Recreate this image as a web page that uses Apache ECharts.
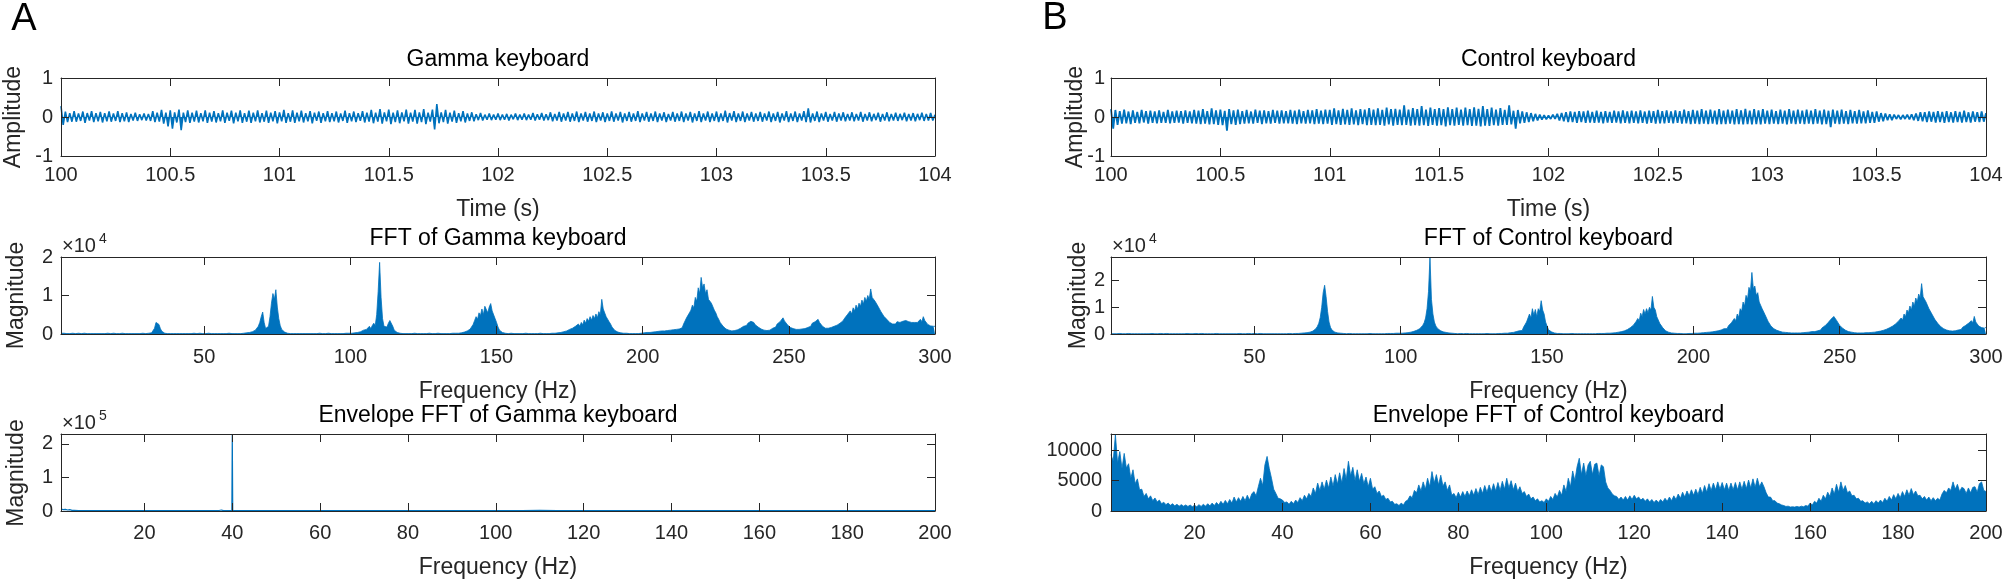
<!DOCTYPE html>
<html><head><meta charset="utf-8">
<script src="https://cdn.jsdelivr.net/npm/echarts@6/dist/echarts.min.js"></script>
<style>html,body{margin:0;padding:0;background:#fff}#chart{width:2008px;height:580px}</style>
</head><body><div id="chart"></div>
<script>
// ---------------- DATA ----------------
// Time signals: t = timeStart + i*timeStep (s), amplitude (a.u.)
const timeStart = 100, timeStep = 0.01;
const gammaAmplitude = [
.28,-.2,.14,-.13,.1,-.12,.15,-.12,.09,-.1,.14,-.15,.1,-.09,.15,-.13,.1,-.11,.13,-.14,
.1,-.11,.14,-.12,.09,-.1,.15,-.13,.1,-.11,.12,-.13,.08,-.09,.11,-.1,.07,-.08,.09,-.09,
.08,-.1,.15,-.13,.11,-.12,.18,-.17,.11,-.24,.17,-.3,.12,-.14,.19,-.34,.11,-.13,.17,-.15,
.11,-.12,.16,-.14,.1,-.11,.17,-.15,.11,-.12,.15,-.14,.1,-.11,.17,-.15,.11,-.1,.16,-.16,
.11,-.11,.17,-.15,.1,-.12,.16,-.15,.11,-.11,.17,-.14,.1,-.12,.16,-.15,.11,-.11,.15,-.16,
.12,-.11,.18,-.15,.1,-.12,.17,-.15,.11,-.11,.16,-.14,.1,-.11,.15,-.16,.11,-.1,.14,-.15,
.1,-.11,.15,-.13,.1,-.11,.14,-.14,.09,-.1,.16,-.15,.1,-.11,.14,-.13,.1,-.1,.15,-.14,
.11,-.12,.18,-.16,.11,-.12,.2,-.17,.12,-.11,.19,-.18,.11,-.13,.17,-.16,.12,-.11,.19,-.17,
.11,-.12,.18,-.17,.12,-.13,.2,-.18,.11,-.12,.19,-.32,.33,-.16,.12,-.13,.18,-.17,.11,-.12,
.16,-.15,.1,-.11,.15,-.14,.09,-.1,.12,-.11,.07,-.08,.1,-.09,.06,-.07,.09,-.08,.06,-.07,
.09,-.08,.06,-.07,.08,-.09,.06,-.06,.09,-.08,.06,-.07,.09,-.08,.06,-.07,.1,-.09,.07,-.07,
.1,-.09,.07,-.08,.12,-.11,.08,-.09,.13,-.12,.09,-.09,.13,-.12,.09,-.1,.14,-.13,.09,-.09,
.13,-.12,.09,-.1,.14,-.13,.09,-.09,.12,-.13,.09,-.1,.14,-.12,.09,-.09,.13,-.14,.09,-.1,
.13,-.12,.09,-.1,.15,-.13,.09,-.09,.13,-.12,.09,-.1,.14,-.13,.09,-.09,.12,-.13,.08,-.09,
.13,-.12,.09,-.1,.14,-.13,.09,-.09,.13,-.14,.09,-.1,.15,-.13,.09,-.09,.14,-.13,.09,-.1,
.14,-.13,.09,-.1,.16,-.14,.1,-.09,.15,-.13,.09,-.1,.14,-.13,.09,-.09,.13,-.12,.09,-.1,
.13,-.12,.09,-.09,.14,-.13,.09,-.1,.13,-.14,.09,-.09,.15,-.13,.09,-.1,.14,-.13,.09,-.09,
.15,-.13,.22,-.14,.09,-.1,.14,-.13,.09,-.09,.13,-.12,.08,-.09,.13,-.12,.09,-.09,.12,-.11,
.08,-.09,.12,-.11,.08,-.09,.13,-.12,.08,-.09,.12,-.11,.08,-.08,.11,-.12,.08,-.09,.12,-.11,
.08,-.09,.11,-.1,.08,-.08,.11,-.11,.08,-.09,.1,-.11,.08,-.08,.11,-.1,.08,-.09,.1,-.09,
.06];
const controlAmplitude = [
.2,-.3,.18,-.2,.15,-.17,.19,-.16,.14,-.18,.17,-.15,.13,-.16,.18,-.14,.15,-.17,.16,-.15,
.14,-.16,.17,-.15,.13,-.15,.18,-.16,.14,-.15,.16,-.14,.15,-.17,.17,-.15,.14,-.16,.18,-.17,
.16,-.18,.2,-.17,.15,-.19,.22,-.18,.17,-.2,.19,-.21,.16,-.35,.2,-.18,.17,-.2,.19,-.18,
.15,-.17,.18,-.16,.14,-.17,.19,-.15,.16,-.18,.17,-.16,.15,-.17,.18,-.15,.16,-.17,.17,-.16,
.15,-.16,.18,-.17,.16,-.18,.19,-.16,.15,-.17,.18,-.16,.17,-.18,.2,-.17,.16,-.18,.19,-.17,
.18,-.2,.22,-.18,.17,-.2,.21,-.19,.18,-.2,.22,-.19,.17,-.21,.2,-.18,.19,-.21,.23,-.2,
.19,-.21,.22,-.2,.18,-.22,.24,-.19,.2,-.22,.21,-.2,.19,-.21,.3,-.2,.19,-.22,.23,-.21,
.2,-.22,.28,-.21,.19,-.23,.24,-.2,.2,-.22,.23,-.21,.2,-.24,.25,-.21,.2,-.22,.24,-.2,
.19,-.22,.24,-.21,.2,-.23,.25,-.22,.21,-.24,.28,-.22,.2,-.23,.24,-.21,.19,-.22,.23,-.2,
.18,-.2,.3,-.19,.16,-.3,.18,-.16,.14,-.15,.12,-.13,.1,-.11,.08,-.09,.06,-.07,.05,-.06,
.04,-.05,.06,-.05,.08,-.09,.1,-.11,.12,-.13,.14,-.13,.13,-.15,.15,-.13,.14,-.15,.16,-.14,
.13,-.15,.16,-.14,.13,-.16,.15,-.14,.13,-.15,.16,-.14,.14,-.16,.17,-.15,.14,-.16,.16,-.15,
.14,-.16,.17,-.15,.14,-.17,.16,-.15,.15,-.17,.18,-.16,.15,-.16,.17,-.15,.14,-.16,.17,-.15,
.15,-.17,.19,-.16,.15,-.18,.18,-.17,.16,-.18,.2,-.17,.16,-.18,.19,-.17,.16,-.19,.2,-.18,
.16,-.18,.19,-.17,.16,-.19,.2,-.18,.17,-.19,.21,-.18,.16,-.19,.2,-.18,.17,-.19,.2,-.17,
.16,-.18,.19,-.17,.15,-.18,.19,-.17,.16,-.19,.2,-.17,.16,-.18,.19,-.17,.16,-.18,.19,-.17,
.16,-.18,.2,-.17,.16,-.19,.19,-.18,.16,-.26,.19,-.17,.16,-.18,.19,-.17,.15,-.18,.18,-.16,
.15,-.17,.18,-.16,.14,-.16,.17,-.15,.13,-.15,.14,-.12,.1,-.11,.09,-.08,.07,-.08,.06,-.05,
.05,-.06,.05,-.05,.06,-.06,.07,-.08,.09,-.1,.12,-.11,.12,-.13,.14,-.12,.13,-.14,.15,-.13,
.13,-.15,.15,-.13,.12,-.14,.15,-.13,.13,-.14,.16,-.13,.12,-.14,.14,-.12,.12,-.13,.14,-.12,
.1];

// FFT spectra: f = fftHzStart + i*fftHzStep (Hz), magnitude in units of 10^4
const fftHzStart = 1, fftHzStep = 0.5;
const gammaFftMag = [
.02,.01,.02,.01,.01,.02,.01,.01,.02,.01,.01,.01,.02,.01,.01,.01,.02,.01,.01,.01,
.01,.02,.01,.01,.01,.02,.01,.01,.01,.02,.01,.01,.02,.01,.01,.01,.02,.01,.01,.01,
.01,.01,.02,.01,.01,.02,.01,.01,.01,.02,.01,.01,.01,.02,.01,.01,.02,.01,.01,.02,
.02,.02,.03,.06,.15,.3,.33,.25,.14,.07,.04,.02,.02,.01,.01,.01,.02,.01,.01,.01,
.01,.01,.02,.01,.01,.01,.02,.01,.01,.01,.01,.02,.01,.01,.01,.02,.01,.01,.01,.01,
.01,.02,.01,.01,.01,.01,.02,.01,.01,.01,.02,.01,.01,.01,.01,.02,.01,.01,.02,.01,
.01,.01,.02,.01,.02,.02,.02,.03,.03,.04,.05,.06,.08,.1,.14,.2,.3,.45,.57,.3,
.14,.1,.2,.45,.8,1.05,.9,1.15,.7,.4,.22,.12,.07,.05,.03,.02,.02,.01,.01,.01,
.01,.01,.02,.01,.01,.01,.02,.01,.01,.01,.01,.01,.02,.01,.01,.01,.01,.02,.01,.01,
.01,.01,.01,.02,.01,.01,.01,.01,.02,.01,.01,.01,.02,.01,.01,.02,.01,.02,.02,.02,
.02,.03,.03,.04,.05,.06,.08,.1,.13,.12,.16,.2,.14,.22,.28,.22,.5,1.1,1.86,.95,
.4,.2,.24,.18,.28,.35,.3,.2,.1,.06,.04,.03,.02,.02,.01,.01,.01,.02,.01,.01,
.01,.01,.02,.01,.01,.01,.01,.02,.01,.01,.01,.01,.02,.01,.01,.01,.01,.01,.02,.01,
.01,.01,.01,.02,.01,.01,.01,.01,.02,.01,.02,.02,.02,.03,.03,.04,.05,.06,.08,.1,
.13,.18,.25,.35,.45,.38,.55,.48,.65,.5,.72,.76,.55,.7,.79,.6,.55,.4,.3,.18,
.1,.06,.04,.03,.02,.02,.01,.01,.02,.01,.01,.01,.01,.02,.01,.01,.01,.01,.02,.01,
.01,.01,.01,.02,.01,.01,.01,.01,.02,.01,.01,.01,.01,.02,.01,.01,.02,.02,.02,.03,
.03,.04,.04,.05,.06,.07,.08,.1,.12,.1,.15,.13,.2,.16,.26,.2,.3,.24,.36,.28,
.4,.33,.45,.36,.48,.4,.52,.42,.58,.5,.9,.65,.6,.45,.42,.32,.26,.18,.13,.09,
.07,.05,.04,.03,.03,.02,.02,.02,.01,.01,.02,.01,.01,.01,.02,.01,.02,.02,.02,.03,
.03,.04,.05,.04,.06,.05,.07,.06,.08,.07,.09,.08,.1,.08,.11,.09,.12,.1,.13,.11,
.14,.12,.15,.13,.18,.16,.26,.3,.42,.38,.55,.62,.75,.68,.95,.85,1.2,1.05,1.47,1.2,
1.3,1.05,1.15,.9,.95,.8,.78,.62,.55,.45,.38,.3,.25,.2,.16,.13,.11,.1,.09,.08,
.08,.09,.1,.11,.13,.15,.18,.2,.24,.22,.28,.26,.33,.28,.3,.24,.22,.18,.16,.13,
.12,.1,.1,.09,.1,.1,.12,.15,.2,.18,.26,.24,.32,.3,.42,.34,.3,.24,.2,.17,
.16,.14,.13,.12,.13,.12,.14,.13,.15,.14,.18,.17,.22,.2,.28,.25,.32,.28,.38,.3,
.26,.2,.18,.15,.14,.15,.15,.17,.18,.2,.21,.23,.25,.28,.3,.34,.4,.38,.5,.45,
.6,.52,.68,.6,.75,.65,.8,.72,.88,.78,.95,.85,1,.9,1.17,.95,.98,.85,.88,.72,
.7,.58,.55,.46,.45,.38,.36,.3,.3,.26,.3,.26,.32,.27,.3,.28,.33,.28,.35,.3,
.32,.28,.3,.26,.3,.25,.3,.28,.38,.32,.45,.35,.3,.25,.24,.21,.22,.2,.2];
const controlFftMag = [
.01,.02,.01,.01,.01,.01,.02,.01,.01,.01,.01,.01,.02,.01,.01,.01,.01,.02,.01,.01,
.01,.01,.01,.02,.01,.01,.01,.01,.02,.01,.01,.01,.01,.01,.02,.01,.01,.01,.02,.01,
.01,.02,.01,.01,.01,.01,.01,.02,.01,.01,.01,.01,.02,.01,.01,.01,.01,.01,.02,.01,
.01,.01,.02,.01,.01,.01,.01,.02,.01,.01,.01,.01,.02,.01,.01,.01,.01,.02,.01,.01,
.01,.01,.01,.02,.01,.01,.01,.01,.02,.01,.01,.01,.01,.01,.02,.01,.01,.01,.02,.01,
.01,.01,.02,.01,.01,.01,.01,.02,.01,.01,.01,.01,.01,.02,.01,.01,.01,.02,.01,.01,
.01,.01,.02,.01,.01,.02,.02,.02,.02,.03,.03,.03,.04,.04,.05,.06,.07,.09,.11,.15,
.2,.28,.4,.62,1,1.55,1.83,1.4,.85,.45,.25,.15,.1,.07,.05,.04,.03,.03,.02,.02,
.02,.01,.01,.02,.01,.01,.01,.01,.02,.01,.01,.01,.02,.01,.01,.01,.01,.02,.01,.01,
.01,.01,.02,.01,.01,.01,.02,.01,.01,.02,.01,.02,.02,.02,.02,.03,.02,.03,.03,.03,
.04,.04,.05,.05,.06,.07,.08,.1,.12,.14,.17,.2,.25,.32,.42,.6,.95,1.6,2.89,1.3,
.75,.45,.3,.22,.17,.13,.1,.08,.07,.06,.05,.04,.03,.03,.02,.02,.02,.01,.01,.02,
.01,.01,.01,.02,.01,.01,.01,.01,.02,.01,.01,.01,.02,.01,.01,.01,.01,.02,.01,.01,
.01,.01,.02,.01,.01,.02,.02,.02,.02,.03,.03,.03,.04,.05,.05,.06,.07,.09,.1,.12,
.15,.13,.26,.22,.45,.38,.75,.6,.95,.7,.92,.65,.95,.85,1.25,.9,.75,.45,.3,.16,
.12,.08,.05,.04,.03,.02,.02,.02,.01,.01,.02,.01,.01,.01,.01,.02,.01,.01,.01,.01,
.01,.01,.02,.01,.01,.01,.02,.01,.01,.01,.02,.01,.02,.02,.02,.02,.03,.02,.03,.03,
.03,.03,.04,.04,.05,.05,.06,.07,.08,.09,.1,.12,.14,.17,.2,.24,.28,.33,.4,.48,
.58,.5,.78,.65,.92,.75,.95,.8,1,.9,1.41,1,.9,.65,.58,.4,.35,.24,.18,.12,
.09,.07,.05,.04,.03,.03,.02,.02,.02,.02,.01,.01,.02,.01,.02,.02,.02,.02,.02,.03,
.03,.03,.04,.04,.04,.05,.05,.06,.06,.07,.07,.08,.09,.1,.11,.12,.13,.15,.17,.2,
.23,.2,.31,.28,.42,.38,.58,.5,.75,.62,.95,.85,1.2,1.05,1.45,1.3,1.75,1.6,2.31,1.7,
1.8,1.45,1.55,1.2,1.25,.95,.95,.72,.65,.48,.42,.3,.27,.2,.18,.14,.13,.1,.09,.07,
.07,.06,.05,.05,.04,.04,.04,.04,.04,.04,.04,.04,.05,.05,.05,.06,.06,.07,.08,.09,
.1,.09,.13,.12,.17,.15,.23,.2,.31,.27,.42,.36,.55,.48,.66,.7,.5,.45,.32,.28,
.22,.17,.14,.11,.09,.08,.07,.06,.05,.05,.04,.04,.04,.04,.04,.04,.05,.05,.05,.06,
.06,.07,.07,.08,.09,.1,.11,.12,.14,.16,.18,.2,.23,.26,.29,.33,.37,.42,.47,.53,
.6,.52,.75,.65,.9,.8,1.05,.9,1.2,1.05,1.35,1.2,1.5,1.35,1.89,1.4,1.42,1.2,1.2,.95,
.95,.75,.72,.55,.52,.4,.37,.28,.26,.2,.19,.15,.14,.12,.12,.11,.12,.12,.14,.15,
.19,.17,.25,.22,.32,.28,.4,.34,.5,.42,.66,.45,.42,.3,.3,.24,.27,.22,.25];

// Envelope spectra
const envHzStart = 1, envHzStep = 0.5;           // control: f = envHzStart + i*envHzStep
const controlEnvMag = [
9300,8200,12600,7900,9800,7000,9500,7100,7800,5400,6800,4500,5300,3500,3600,2400,2900,2000,2500,1700,
2150,1500,1800,1200,1450,1050,1300,950,1200,850,1100,800,1050,800,1000,750,980,720,950,700,
1050,760,1100,800,1200,850,1300,900,1400,1000,1600,1100,1750,1200,1900,1300,2300,1500,2200,1600,
2400,1700,2600,1800,2800,3200,2500,4000,5400,4200,7600,9000,7000,5400,3600,2900,2100,2000,1800,1400,
1500,1100,1600,1200,1800,1400,2200,1700,2600,2000,2900,2400,3800,2900,4600,3400,4800,3600,5100,3800,
5600,4100,6000,4400,6300,4600,7000,5200,8200,5800,7200,5000,6800,4900,6200,4500,5600,4000,5400,3600,
4000,2900,3300,2400,2600,1900,2100,1500,1600,1100,1200,900,1300,1000,1600,1800,2500,2200,3400,3000,
4300,3300,4800,3600,5400,4000,6500,4600,6000,4300,5900,4100,4800,3400,4300,2600,2900,2200,3100,2300,
3200,2400,3300,2500,3500,2600,3700,2700,3900,2900,4200,3100,4300,3200,4500,3300,4700,3400,4900,3600,
5400,3800,5000,3500,4600,3200,4000,2900,3200,2400,2800,2000,2300,1700,2000,1500,1700,1400,2000,1600,
2400,1900,2900,2300,3400,2600,4300,3200,5400,4000,6600,5000,7300,8700,6000,7900,5800,7600,8200,6000,
7700,7900,5800,7600,7300,4800,3800,3400,2800,2500,2400,1900,2300,1800,2400,1800,2500,1900,2600,2000,
2300,1800,2100,1600,2000,1500,1900,1400,1800,1400,1900,1500,2100,1600,2300,1700,2500,1900,2800,2100,
3100,2300,3300,2500,3500,2600,3600,2700,3900,2900,4200,3100,4500,3400,4600,3500,4800,3600,4700,3500,
4600,3400,4600,3500,4700,3500,4800,3600,4900,3700,5100,3800,5300,3900,5400,4000,4800,4000,3000,2300,
2300,1700,1700,1300,1200,1000,900,750,800,650,700,650,750,650,800,700,900,800,1300,1000,
1600,1300,2100,1600,2600,2000,3100,2400,3800,2800,4400,3100,4800,3400,4200,3000,3300,2500,2600,2000,
2100,1600,1700,1300,1500,1200,1600,1200,1700,1300,1800,1400,2100,1600,2400,1800,2700,2000,2900,2200,
3200,2400,3500,2600,3700,2700,3300,2500,2600,2000,2400,1800,2300,1700,2200,1700,2100,1800,2800,3400,
3000,3800,3400,4800,3600,4400,3200,3900,3700,2900,3800,3000,3900,4000,3100,4500,4800,3400,3200];
// gamma envelope, sampled at listed frequencies; magnitude in units of 10^5
const gammaEnvHz  = [1,1.5,2,2.5,3,3.5,4,5,6,8,12,20,30,36,37,37.5,38,39,39.9,40,40.1,41,45,60,80,100,106,110,114,120,140,160,180,200];
const gammaEnvMag = [.06,.04,.05,.03,.04,.02,.02,.015,.01,.01,.01,.01,.01,.01,.015,.03,.01,.01,.015,2.29,.02,.01,.01,.01,.01,.01,.015,.02,.015,.01,.01,.01,.01,.01];

// Axis ranges and tick values
const timeRange = [100, 104], timeTicks = [100,100.5,101,101.5,102,102.5,103,103.5,104];
const fftRange = [1, 300], fftTicks = [50,100,150,200,250,300];
const envRange = [1, 200], envTicks = [20,40,60,80,100,120,140,160,180,200];
const ampRange = [-1, 1], ampTicks = [-1,0,1];
const gammaFftRange = [0, 2], controlFftRange = [0, 2.89], magTicks = [0,1,2];
const gammaEnvRange = [0, 2.29], controlEnvRange = [0, 12700], controlEnvTicks = [0,5000,10000];

// ---------------- CHART ----------------
const BLUE = '#0072BD', AX = '#262626';
const FONT = '"Liberation Sans", Arial, Helvetica, sans-serif';
const cols = [{left: 61, width: 874}, {left: 1111, width: 875}];
const rows = [{top: 78, height: 78}, {top: 257, height: 77}, {top: 434, height: 78}];

const uni = (arr, start, step) => arr.map((v, i) => [start + i * step, v]);
const pairs = (xs, ys) => xs.map((x, i) => [x, ys[i]]);

// yl = x position (centre) of the rotated y-axis title
const panels = [
  {c:0, r:0, title:'Gamma keyboard', xr:timeRange, xt:timeTicks, xn:'Time (s)', xm:9, xg:42,
   yr:ampRange, yt:ampTicks, yn:'Amplitude', yl:14, ym:8, data:uni(gammaAmplitude,timeStart,timeStep), area:true, lw:1.6},
  {c:0, r:1, title:'FFT of Gamma keyboard', xr:fftRange, xt:fftTicks, xn:'Frequency (Hz)', xm:13, xg:46,
   yr:gammaFftRange, yt:magTicks, yn:'Magnitude', yl:17, ym:8, data:uni(gammaFftMag,fftHzStart,fftHzStep), area:true, lw:0.8, exp:'4'},
  {c:0, r:2, title:'Envelope FFT of Gamma keyboard', xr:envRange, xt:envTicks, xn:'Frequency (Hz)', xm:12, xg:45,
   yr:gammaEnvRange, yt:magTicks, yn:'Magnitude', yl:17, ym:8, data:pairs(gammaEnvHz,gammaEnvMag), area:false, lw:1.2, exp:'5'},
  {c:1, r:0, title:'Control keyboard', xr:timeRange, xt:timeTicks, xn:'Time (s)', xm:9, xg:42,
   yr:ampRange, yt:ampTicks, yn:'Amplitude', yl:1076, ym:6, data:uni(controlAmplitude,timeStart,timeStep), area:true, lw:1.8},
  {c:1, r:1, title:'FFT of Control keyboard', xr:fftRange, xt:fftTicks, xn:'Frequency (Hz)', xm:13, xg:46,
   yr:controlFftRange, yt:magTicks, yn:'Magnitude', yl:1079, ym:6, data:uni(controlFftMag,fftHzStart,fftHzStep), area:true, lw:0.8, exp:'4'},
  {c:1, r:2, title:'Envelope FFT of Control keyboard', xr:envRange, xt:envTicks, xn:'Frequency (Hz)', xm:12, xg:45,
   yr:controlEnvRange, yt:controlEnvTicks, yn:'', yl:0, ym:9, data:uni(controlEnvMag,envHzStart,envHzStep), area:true, lw:0.8}
];

const fmt = v => String(v);
function axisBase(range, ticks, showLabel, margin) {
  return {
    type: 'value', min: range[0], max: range[1], z: 10,
    splitLine: {show: false},
    axisLine: {show: true, onZero: false, lineStyle: {color: AX, width: 1}},
    axisTick: {show: true, inside: true, length: 8, customValues: ticks, lineStyle: {color: AX, width: 1}},
    axisLabel: {show: showLabel, customValues: ticks, margin: margin, color: AX, fontSize: 20,
                fontFamily: FONT, formatter: fmt, hideOverlap: false}
  };
}

const grid = [], xAxis = [], yAxis = [], series = [], graphic = [];
panels.forEach((p, i) => {
  const col = cols[p.c], row = rows[p.r];
  grid.push({left: col.left, top: row.top, width: col.width, height: row.height, containLabel: false});
  xAxis.push(Object.assign(axisBase(p.xr, p.xt, true, p.xm), {
    gridIndex: i, position: 'bottom', name: p.xn, nameLocation: 'middle', nameGap: p.xg, nameMoveOverlap: false,
    nameTextStyle: {color: AX, fontSize: 23, fontFamily: FONT}}));
  xAxis.push(Object.assign(axisBase(p.xr, p.xt, false, 8), {gridIndex: i, position: 'top'}));
  yAxis.push(Object.assign(axisBase(p.yr, p.yt, true, p.ym), {gridIndex: i, position: 'left'}));
  yAxis.push(Object.assign(axisBase(p.yr, p.yt, false, 8), {gridIndex: i, position: 'right'}));
  const s = {
    type: 'line', xAxisIndex: 2 * i, yAxisIndex: 2 * i, data: p.data,
    showSymbol: false, symbol: 'none', animation: false, silent: true,
    lineStyle: {color: BLUE, width: p.lw, join: 'bevel'}, itemStyle: {color: BLUE}
  };
  if (p.area) s.areaStyle = {color: BLUE, opacity: 1, origin: 0};
  series.push(s);
  graphic.push({type: 'text', x: col.left + col.width / 2, y: row.top - 18,
    style: {text: p.title, fill: '#000', fontSize: 23, fontFamily: FONT, textAlign: 'center', textVerticalAlign: 'middle'}});
  if (p.yn) {
    graphic.push({type: 'text', x: p.yl, y: row.top + row.height / 2, rotation: Math.PI / 2,
      style: {text: p.yn, fill: AX, fontSize: 23, fontFamily: FONT, textAlign: 'center', textVerticalAlign: 'middle'}});
  }
  if (p.exp) {
    graphic.push({type: 'text', x: col.left + 1, y: row.top - 11,
      style: {text: '×10', fill: AX, fontSize: 20, fontFamily: FONT, textAlign: 'left', textVerticalAlign: 'middle'}});
    graphic.push({type: 'text', x: col.left + 38, y: row.top - 18,
      style: {text: p.exp, fill: AX, fontSize: 14, fontFamily: FONT, textAlign: 'left', textVerticalAlign: 'middle'}});
  }
});
graphic.push({type: 'text', x: 24, y: 20, style: {text: 'A', fill: '#000', fontSize: 38, fontFamily: FONT, textAlign: 'center', textVerticalAlign: 'middle'}});
graphic.push({type: 'text', x: 1055, y: 19, style: {text: 'B', fill: '#000', fontSize: 38, fontFamily: FONT, textAlign: 'center', textVerticalAlign: 'middle'}});

const chart = echarts.init(document.getElementById('chart'), null, {renderer: 'canvas'});
chart.setOption({
  animation: false, backgroundColor: '#fff',
  textStyle: {fontFamily: FONT},
  grid, xAxis, yAxis, series, graphic
});
</script>
</body></html>
